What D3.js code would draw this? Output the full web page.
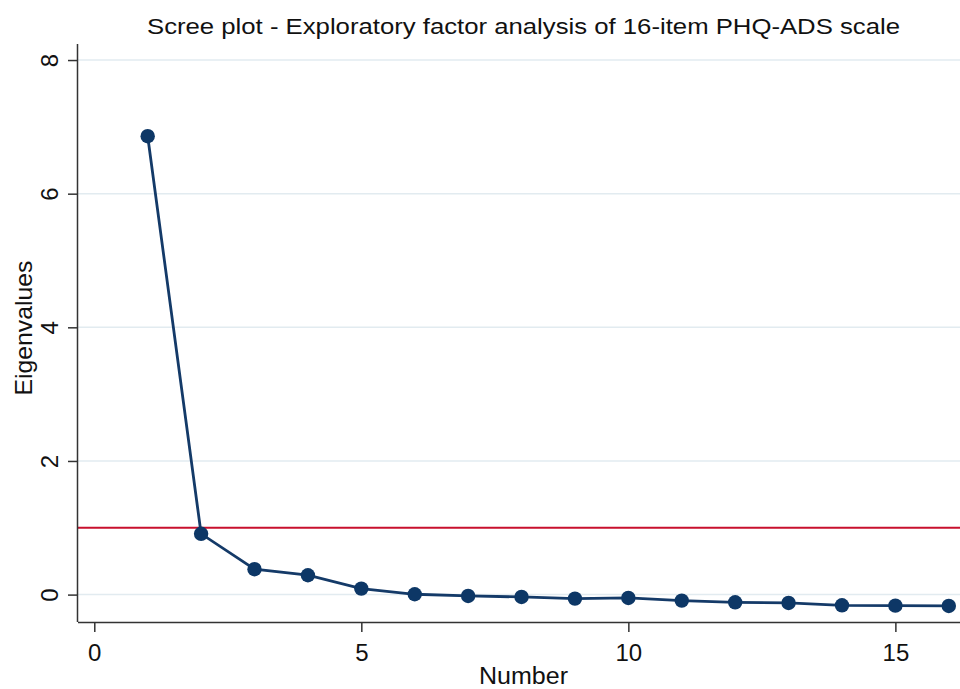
<!DOCTYPE html>
<html>
<head>
<meta charset="utf-8">
<script src="https://cdn.jsdelivr.net/npm/d3@7"></script>
<style>
  html, body { margin: 0; padding: 0; background: #fff; }
  svg { display: block; }
  text { font-family: "Liberation Sans", Arial, sans-serif; fill: #111; }
</style>
</head>
<body>
<svg id="chart" width="960" height="689"></svg>
<script>
// ---- data ----
const factorNumbers = [1,2,3,4,5,6,7,8,9,10,11,12,13,14,15,16];
const eigenvalues = [6.86, 0.91, 0.38, 0.29, 0.09, 0.005, -0.02, -0.035, -0.06, -0.05, -0.09, -0.115, -0.125, -0.16, -0.165, -0.17];
const xTickValues = [0, 5, 10, 15];
const yTickValues = [0, 2, 4, 6, 8];
const referenceLine = 1;
const titleText = "Scree plot - Exploratory factor analysis of 16-item PHQ-ADS scale";
const xLabel = "Number";
const yLabel = "Eigenvalues";

// ---- layout ----
const svg = d3.select("#chart");
const plotLeft = 78, plotRight = 960, plotTop = 44, plotBottom = 622;

const x = d3.scaleLinear().domain([-0.305, 16.21]).range([plotLeft, plotRight]);
const y = d3.scaleLinear().domain([-0.41, 8.24]).range([plotBottom, plotTop]);

// grid
svg.append("g").selectAll("line").data(yTickValues).join("line")
  .attr("x1", plotLeft).attr("x2", plotRight)
  .attr("y1", d => y(d)).attr("y2", d => y(d))
  .attr("stroke", "#e2ebf0").attr("stroke-width", 1.5);

// reference line
svg.append("line")
  .attr("x1", plotLeft).attr("x2", plotRight)
  .attr("y1", y(referenceLine)).attr("y2", y(referenceLine))
  .attr("stroke", "#c8102e").attr("stroke-width", 2);

// series line
const pts = factorNumbers.map((n, i) => [n, eigenvalues[i]]);
svg.append("path")
  .datum(pts)
  .attr("fill", "none")
  .attr("stroke", "#143a68")
  .attr("stroke-width", 2.8)
  .attr("d", d3.line().x(d => x(d[0])).y(d => y(d[1])));

svg.append("g").selectAll("circle").data(pts).join("circle")
  .attr("cx", d => x(d[0])).attr("cy", d => y(d[1]))
  .attr("r", 7.2)
  .attr("fill", "#0d3766");

// axes
const yAxis = d3.axisLeft(y).tickValues(yTickValues).tickSize(10).tickPadding(10).tickFormat(d3.format("d"));
const gy = svg.append("g").attr("transform", `translate(${plotLeft},0)`).call(yAxis);
gy.select(".domain").attr("d", `M-0.5,${plotTop}V${plotBottom}`).attr("stroke", "#333").attr("stroke-width", 1.5);
gy.selectAll(".tick line").attr("stroke", "#333").attr("stroke-width", 1.5);
gy.selectAll(".tick text")
  .attr("font-size", 24)
  .attr("font-family", "Liberation Sans, Arial, sans-serif")
  .attr("fill", "#111")
  .attr("text-anchor", "middle")
  .attr("x", null).attr("dy", null)
  .attr("transform", "translate(-29,0) rotate(-90)")
  .attr("dominant-baseline", "central")
  .attr("y", 0);

const xAxis = d3.axisBottom(x).tickValues(xTickValues).tickSize(10).tickPadding(10).tickFormat(d3.format("d"));
const gx = svg.append("g").attr("transform", `translate(0,${plotBottom})`).call(xAxis);
gx.select(".domain").attr("d", `M${plotLeft},0.5H${plotRight}`).attr("stroke", "#333").attr("stroke-width", 1.5);
gx.selectAll(".tick line").attr("stroke", "#333").attr("stroke-width", 1.5);
gx.selectAll(".tick text")
  .attr("font-size", 24)
  .attr("font-family", "Liberation Sans, Arial, sans-serif")
  .attr("fill", "#111")
  .attr("dy", null)
  .attr("y", 39);

// titles
svg.append("text")
  .attr("x", 523.5).attr("y", 34)
  .attr("text-anchor", "middle")
  .attr("font-size", 22)
  .attr("textLength", 753).attr("lengthAdjust", "spacingAndGlyphs")
  .text(titleText);

svg.append("text")
  .attr("x", 523.5).attr("y", 684)
  .attr("text-anchor", "middle")
  .attr("font-size", 23)
  .attr("textLength", 89).attr("lengthAdjust", "spacingAndGlyphs")
  .text(xLabel);

svg.append("text")
  .attr("transform", "translate(32,328) rotate(-90)")
  .attr("text-anchor", "middle")
  .attr("font-size", 24)
  .attr("textLength", 135).attr("lengthAdjust", "spacingAndGlyphs")
  .text(yLabel);
</script>
</body>
</html>
